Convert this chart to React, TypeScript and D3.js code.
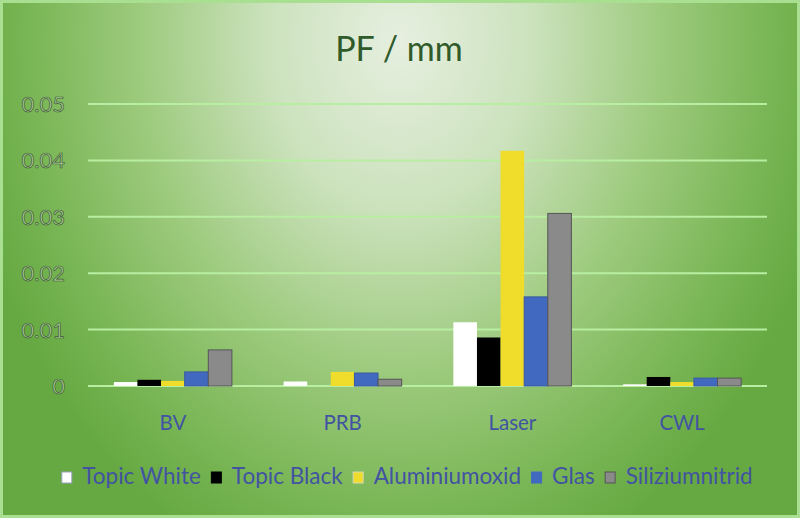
import React, { useEffect, useRef } from "react";
import * as d3 from "d3";

const categories = ["BV", "PRB", "Laser", "CWL"];
const seriesNames = ["Topic White", "Topic Black", "Aluminiumoxid", "Glas", "Siliziumnitrid"];
const topicWhite = [0.0007, 0.0008, 0.0113, 0.0003];
const topicBlack = [0.0011, 0.0, 0.0086, 0.0016];
const aluminiumoxid = [0.0009, 0.0025, 0.0417, 0.0007];
const glas = [0.0025, 0.0023, 0.0158, 0.0014];
const siliziumnitrid = [0.0064, 0.0012, 0.0306, 0.0014];
const seriesValues = [topicWhite, topicBlack, aluminiumoxid, glas, siliziumnitrid];
const yTicks = [0, 0.01, 0.02, 0.03, 0.04, 0.05];
const yTickLabels = ["0", "0.01", "0.02", "0.03", "0.04", "0.05"];

const colors = ["#ffffff", "#000000", "#f0dc2a", "#4169c0", "#8a8a8a"];
const strokes = ["none", "none", "none", "#3a5aa0", "#555555"];
const legendStrokes = ["#9aa0c0", "#000000", "#d8d8b0", "#4169c0", "#555555"];

const W = 800;
const H = 518;
const FONT = "Lato, 'Open Sans', sans-serif";

export default function App() {
  const ref = useRef<SVGSVGElement | null>(null);

  useEffect(() => {
    const svg = d3.select(ref.current);
    svg.selectAll("*").remove();

    const defs = svg.append("defs");
    const grad = defs
      .append("radialGradient")
      .attr("id", "bg")
      .attr("gradientUnits", "userSpaceOnUse")
      .attr("cx", 0)
      .attr("cy", 0)
      .attr("r", 1)
      .attr("gradientTransform", "translate(400,40) scale(440,560)");
    [
      [0, "#e6efe0"],
      [0.3, "#cce2bd"],
      [0.6, "#9cca7c"],
      [0.85, "#78b554"],
      [1, "#66a942"],
    ].forEach(([o, c]) => grad.append("stop").attr("offset", o as number).attr("stop-color", c as string));

    svg.append("rect").attr("x", 0).attr("y", 0).attr("width", W).attr("height", H).attr("fill", "url(#bg)");
    svg
      .append("rect")
      .attr("x", 1.5)
      .attr("y", 1.5)
      .attr("width", W - 3)
      .attr("height", H - 3)
      .attr("fill", "none")
      .attr("stroke", "#a8df90")
      .attr("stroke-width", 3);

    const x0 = d3.scaleBand<string>().domain(categories).range([88, 767]);
    const y = d3.scaleLinear().domain([0, 0.05]).range([386, 104]);
    const bw = x0.bandwidth();
    const barW = bw / (5 + 2.19);
    const groupW = barW * 5;
    const x1 = d3
      .scaleBand<number>()
      .domain(d3.range(5))
      .range([(bw - groupW) / 2, (bw + groupW) / 2]);

    // gridlines
    svg
      .append("g")
      .selectAll("line")
      .data(yTicks)
      .join("line")
      .attr("x1", 88)
      .attr("x2", 767)
      .attr("y1", (d) => y(d))
      .attr("y2", (d) => y(d))
      .attr("stroke", "#b8eea2")
      .attr("stroke-width", 2);

    // y labels
    svg
      .append("g")
      .selectAll("text")
      .data(yTicks)
      .join("text")
      .attr("x", 65)
      .attr("y", (d) => y(d))
      .attr("dy", "0.36em")
      .attr("text-anchor", "end")
      .attr("font-family", FONT)
      .attr("font-size", 22)
      .attr("fill", "#a9c995")
      .attr("stroke", "#3c5a34")
      .attr("stroke-width", 0.7)
      .text((d, i) => yTickLabels[i]);

    // bars
    const gBars = svg.append("g");
    seriesValues.forEach((vals, si) => {
      gBars
        .append("g")
        .selectAll("rect")
        .data(vals)
        .join("rect")
        .attr("x", (d, ci) => (x0(categories[ci]) as number) + (x1(si) as number))
        .attr("y", (d) => y(d))
        .attr("width", x1.bandwidth())
        .attr("height", (d) => y(0) - y(d))
        .attr("fill", colors[si])
        .attr("stroke", strokes[si])
        .attr("stroke-width", 1);
    });

    // category labels
    svg
      .append("g")
      .selectAll("text")
      .data(categories)
      .join("text")
      .attr("x", (d) => (x0(d) as number) + bw / 2)
      .attr("y", 430)
      .attr("text-anchor", "middle")
      .attr("font-family", FONT)
      .attr("font-size", 20.5)
      .attr("fill", "#4253a2")
      .text((d) => d);

    // title
    svg
      .append("text")
      .attr("x", 399)
      .attr("y", 61)
      .attr("text-anchor", "middle")
      .attr("font-family", FONT)
      .attr("font-size", 34)
      .attr("fill", "#2f5a2a")
      .text("PF / mm");

    // legend
    const lg = svg.append("g");
    const items = seriesNames.map((name, i) => {
      const g = lg.append("g");
      g.append("rect")
        .attr("x", 0.5)
        .attr("y", 472)
        .attr("width", 10)
        .attr("height", 11)
        .attr("fill", colors[i])
        .attr("stroke", legendStrokes[i])
        .attr("stroke-width", 1);
      const t = g
        .append("text")
        .attr("x", 21)
        .attr("y", 484)
        .attr("font-family", FONT)
        .attr("font-size", 22.5)
        .attr("fill", "#4253a2")
        .text(name);
      const len = (t.node() as SVGTextElement).getComputedTextLength();
      return { g, w: 21 + len };
    });
    const gap = 10;
    const total = d3.sum(items, (d) => d.w) + gap * (items.length - 1);
    let cx = 407 - total / 2;
    items.forEach((it) => {
      it.g.attr("transform", `translate(${cx},0)`);
      cx += it.w + gap;
    });
  }, []);

  return (
    <svg
      ref={ref}
      width={W}
      height={H}
      style={{ position: "absolute", left: 0, top: 0, display: "block" }}
    />
  );
}
